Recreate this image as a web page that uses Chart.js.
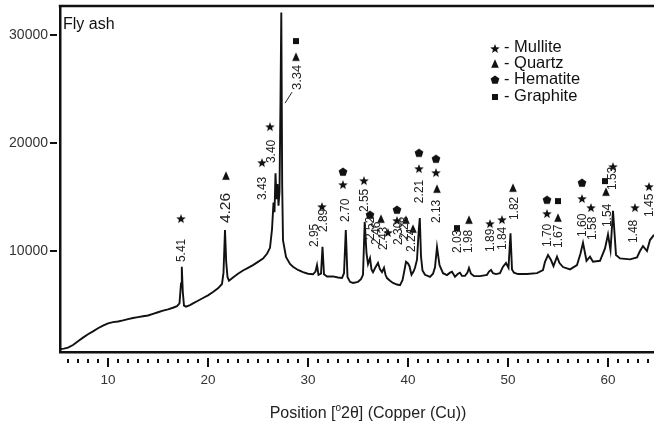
<!DOCTYPE html>
<html lang="en">
<head>
    <meta charset="UTF-8">
    <title>Fly ash XRD</title>
    <script src="https://cdn.jsdelivr.net/npm/chart.js"></script>
    <style>
        body { margin: 0; background: #fff; }
    </style>
</head>
<body>
    <canvas id="xrdChart" width="654" height="426"></canvas>

    <script>
        // diffractogram, position in deg 2theta vs counts
        const twoTheta = [
            5.2, 5.6, 6.0, 6.5, 7.0, 7.5, 8.0, 8.5, 9.0, 9.5, 10.0, 10.5, 11.0, 11.5, 12.0, 12.5, 13.0, 13.5,
            14.0, 14.5, 15.0, 15.5, 16.0, 16.5, 16.9, 17.15, 17.3, 17.38, 17.48, 17.6, 17.8, 18.2, 18.5,
            19.0, 19.5, 20.0, 20.5, 21.0, 21.4, 21.55, 21.7, 21.82, 21.95, 22.1, 22.5, 23.0, 23.5, 24.0,
            24.5, 25.0, 25.5, 25.9, 26.2, 26.4, 26.55, 26.65, 26.75, 26.85, 26.95, 27.05, 27.15, 27.25,
            27.33, 27.42, 27.5, 27.8, 28.2, 28.5, 29.0, 29.5, 30.0, 30.5, 30.75, 30.9, 31.05, 31.3, 31.45,
            31.6, 31.9, 32.5, 33.0, 33.4, 33.6, 33.78, 33.95, 34.2, 34.5, 35.0, 35.3, 35.5, 35.67, 35.85,
            36.0, 36.2, 36.35, 36.5, 36.75, 37.0, 37.2, 37.4, 37.6, 37.75, 37.9, 38.2, 38.5, 38.9, 39.2,
            39.45, 39.6, 39.8, 40.0, 40.15, 40.35, 40.55, 40.7, 40.9, 41.08, 41.18, 41.3, 41.45, 41.7,
            42.2, 42.5, 42.7, 42.9, 43.15, 43.5, 43.9, 44.2, 44.4, 44.7, 45.0, 45.2, 45.4, 45.7, 45.95,
            46.1, 46.3, 46.6, 47.2, 47.9, 48.1, 48.3, 48.5, 48.8, 49.2, 49.5, 49.8, 50.05, 50.25, 50.4,
            50.6, 51.0, 51.9, 52.9, 53.5, 53.7, 54.0, 54.3, 54.55, 54.9, 55.15, 55.5, 56.2, 56.9, 57.25,
            57.5, 57.85, 58.2, 58.5, 59.2, 59.7, 60.0, 60.25, 60.5, 60.8, 61.2, 62.2, 62.9, 63.2, 63.5,
            63.9, 64.2, 64.6
        ];
        const counts = [
            930, 960, 1050, 1300, 1650, 1980, 2300, 2560, 2850, 3100, 3300, 3420, 3480, 3580, 3700, 3800, 3880, 3960,
            4030, 4180, 4330, 4480, 4600, 4750, 4900, 5150, 7000, 8550, 6200, 4950, 4850, 5000, 5150,
            5400, 5650, 5900, 6200, 6550, 6950, 8000, 11950, 9000, 7600, 7250, 7550, 7900, 8200, 8450,
            8700, 9000, 9300, 9750, 10300, 12000, 14500, 13600, 17200, 14800, 16200, 14200, 15500, 24000,
            32100, 16000, 11000, 9450, 8800, 8550, 8250, 8050, 7900, 7850, 8100, 8700, 7800, 7900, 10400,
            7850, 7650, 7650, 7550, 7500, 7950, 11950, 7600, 7150, 7050, 7150, 7400, 7800, 12700, 9800,
            8800, 9350, 8300, 8050, 8500, 8900, 8300, 8050, 8450, 7800, 7500, 7250, 7050, 6900, 6850,
            7300, 8000, 9000, 8850, 8600, 7800, 8100, 8450, 9200, 12000, 13060, 9500, 8200, 7800,
            7600, 7900, 8500, 10370, 8700, 7950, 7780, 8000, 8080, 7620, 7900, 8000, 7700, 7700, 8000,
            8430, 7900, 7680, 7680, 7800, 8100, 8250, 7950, 7870, 7960, 8550, 8890, 8450, 11640, 8300,
            8000, 7870, 7870, 7960, 8240, 9010, 9630, 9170, 8610, 9480, 8890, 8520, 8300, 8700, 9770,
            10770, 9100, 9480, 9010, 9100, 10250, 11540, 10090, 13730, 9630, 9320, 9230, 9410, 10000, 10460,
            10000, 11020, 11500
        ];

        const xTicks = [10, 20, 30, 40, 50, 60];
        const yTicks = [10000, 20000, 30000];

        // d-spacing labels: text, position of the foot of the rotated text
        const peakText = ['5.41', '4.26', '3.43', '3.40', '3.34', '2.95', '2.89', '2.70', '2.55', '2.52',
            '2.46', '2.43', '2.30', '2.28', '2.24', '2.21', '2.13', '2.03', '1.98', '1.89', '1.84', '1.82',
            '1.70', '1.67', '1.60', '1.58', '1.54', '1.53', '1.48', '1.45'];
        const peakTextX = [17.4, 21.8, 25.5, 26.4, 28.9, 30.7, 31.6, 33.8, 35.7, 36.3,
            36.9, 37.6, 39.1, 39.7, 40.4, 41.2, 42.9, 45.0, 46.1, 48.3, 49.5, 50.7,
            54.0, 55.1, 57.5, 58.5, 60.0, 60.5, 62.6, 64.2];
        const peakTextY = [8980, 12590, 14720, 18150, 24910, 10370, 11760, 12690, 13610, 11020,
            10560, 10090, 10560, 11020, 9910, 14440, 12590, 9810, 9810, 9910, 10090, 12870,
            10370, 10280, 11300, 11020, 12220, 15650, 10740, 13150];

        // phase markers
        const mulliteX = [17.3, 25.4, 26.2, 31.4, 33.5, 35.6, 38.0, 38.9, 41.1, 42.8, 48.2, 49.4, 53.9, 57.4, 58.3, 60.5, 62.7, 64.1];
        const mulliteY = [12960, 18150, 21480, 14070, 16110, 16480, 11670, 12780, 17590, 17220, 12500, 12870, 13430, 14820, 13980, 17780, 13980, 15930];
        const quartzX = [21.8, 28.8, 37.3, 39.8, 40.5, 42.9, 46.1, 50.5, 55.0, 59.8];
        const quartzY = [16950, 27960, 12960, 12870, 12040, 15740, 12870, 15830, 13060, 15460];
        const hematiteX = [33.5, 36.2, 38.9, 41.1, 42.8, 53.9, 57.4];
        const hematiteY = [17320, 13330, 13800, 19070, 18520, 14720, 16300];
        const graphiteX = [28.8, 44.9, 55.0, 59.7];
        const graphiteY = [29450, 12130, 14630, 16480];

        const phases = ['Mullite', 'Quartz', 'Hematite', 'Graphite'];

        const ink = '#111';
        const fontFamily = '"Liberation Sans", Arial, sans-serif';

        function symbol(kind) {
            const s = 12;
            const c = document.createElement('canvas');
            c.width = s; c.height = s;
            const g = c.getContext('2d');
            const cx = s / 2, cy = s / 2;
            g.fillStyle = ink;
            g.beginPath();
            if (kind === 'star') {
                for (let i = 0; i < 10; i++) {
                    const r = i % 2 ? 2.1 : 5;
                    const a = -Math.PI / 2 + i * Math.PI / 5;
                    g.lineTo(cx + r * Math.cos(a), cy + r * Math.sin(a));
                }
            } else if (kind === 'triangle') {
                g.moveTo(cx, cy - 4.8);
                g.lineTo(cx + 3.8, cy + 3.8);
                g.lineTo(cx - 3.8, cy + 3.8);
            } else if (kind === 'pentagon') {
                for (let i = 0; i < 5; i++) {
                    const a = -Math.PI / 2 + i * 2 * Math.PI / 5;
                    g.lineTo(cx + 4.6 * Math.cos(a), cy + 4.6 * Math.sin(a));
                }
            } else {
                g.rect(cx - 3, cy - 3, 6, 6);
            }
            g.closePath();
            g.fill();
            return c;
        }
        const symbols = [symbol('star'), symbol('triangle'), symbol('pentagon'), symbol('square')];

        const pts = (xs, ys) => xs.map((v, i) => ({ x: v, y: ys[i] }));

        const markerSet = (label, xs, ys, img) => ({
            type: 'scatter',
            label: label,
            data: pts(xs, ys),
            pointStyle: img,
            pointRadius: 5,
            showLine: false,
            order: 0
        });

        const decor = {
            id: 'decor',
            afterDraw(chart) {
                const { ctx, chartArea: a, scales: { x, y } } = chart;
                ctx.save();

                // frame top
                ctx.strokeStyle = ink;
                ctx.lineWidth = 2.5;
                ctx.beginPath();
                ctx.moveTo(a.left - 1.25, a.top);
                ctx.lineTo(a.right, a.top);
                ctx.stroke();

                // tick marks, set off below the axis
                ctx.fillStyle = ink;
                for (let d = 6; d <= 64; d++) {
                    const px = Math.round(x.getPixelForValue(d));
                    const major = d % 10 === 0;
                    ctx.fillRect(px - 1, a.bottom + (major ? 6 : 7), 2, major ? 9 : 4);
                }
                yTicks.forEach(v => {
                    const py = Math.round(y.getPixelForValue(v));
                    ctx.fillRect(a.left - 10, py - 1, 7, 2);
                });

                // d-spacing labels
                ctx.fillStyle = '#222';
                ctx.textAlign = 'left';
                ctx.textBaseline = 'middle';
                peakText.forEach((t, i) => {
                    let size = 12;
                    if (t === '4.26') size = 15.5;
                    if (t === '3.34') size = 13;
                    ctx.font = size + 'px ' + fontFamily;
                    ctx.save();
                    ctx.translate(x.getPixelForValue(peakTextX[i]), y.getPixelForValue(peakTextY[i]));
                    ctx.rotate(-Math.PI / 2);
                    ctx.fillText(t, 0, 0);
                    ctx.restore();
                });

                // leader for 3.34
                ctx.strokeStyle = '#222';
                ctx.lineWidth = 1;
                ctx.beginPath();
                ctx.moveTo(x.getPixelForValue(27.7), y.getPixelForValue(23700));
                ctx.lineTo(x.getPixelForValue(28.4), y.getPixelForValue(24720));
                ctx.stroke();

                // legend
                ctx.font = '16.5px ' + fontFamily;
                ctx.fillStyle = ink;
                const rowY = [47, 63, 79, 96];
                const symY = [49, 64, 80, 97];
                phases.forEach((p, i) => {
                    const img = symbols[i];
                    ctx.drawImage(img, 495 - img.width / 2, symY[i] - img.height / 2);
                    ctx.fillText('- ' + p, 504, rowY[i]);
                });

                // sample name
                ctx.font = '16px ' + fontFamily;
                ctx.fillText('Fly ash', 63, 25);

                // axis title with superscript degree
                const cx = 368, base = 418;
                const p1 = 'Position [', p2 = 'o', p3 = '2\u03b8] (Copper (Cu))';
                ctx.textBaseline = 'alphabetic';
                ctx.font = '16px ' + fontFamily;
                const w1 = ctx.measureText(p1).width, w3 = ctx.measureText(p3).width;
                ctx.font = '10px ' + fontFamily;
                const w2 = ctx.measureText(p2).width;
                let sx = cx - (w1 + w2 + w3) / 2;
                ctx.fillStyle = '#222';
                ctx.font = '16px ' + fontFamily;
                ctx.fillText(p1, sx, base);
                ctx.font = '10px ' + fontFamily;
                ctx.fillText(p2, sx + w1, base - 7);
                ctx.font = '16px ' + fontFamily;
                ctx.fillText(p3, sx + w1 + w2, base);

                ctx.restore();
            }
        };

        new Chart(document.getElementById('xrdChart').getContext('2d'), {
            type: 'line',
            data: {
                datasets: [
                    {
                        label: 'Fly ash',
                        data: pts(twoTheta, counts),
                        borderColor: ink,
                        borderWidth: 1.9,
                        pointRadius: 0,
                        tension: 0,
                        fill: false,
                        order: 1
                    },
                    markerSet('Mullite', mulliteX, mulliteY, symbols[0]),
                    markerSet('Quartz', quartzX, quartzY, symbols[1]),
                    markerSet('Hematite', hematiteX, hematiteY, symbols[2]),
                    markerSet('Graphite', graphiteX, graphiteY, symbols[3])
                ]
            },
            options: {
                responsive: false,
                animation: false,
                events: [],
                layout: { autoPadding: false, padding: { top: 6, right: 0, left: 0, bottom: 0 } },
                plugins: {
                    legend: { display: false },
                    tooltip: { enabled: false }
                },
                scales: {
                    x: {
                        type: 'linear',
                        min: 5.2,
                        max: 64.6,
                        afterBuildTicks: s => { s.ticks = xTicks.map(v => ({ value: v })); },
                        afterFit: s => {
                            s.height = 74;
                            s.paddingLeft = 0;
                            s.paddingRight = 0;
                        },
                        grid: { drawOnChartArea: false, drawTicks: false },
                        border: { display: true, color: ink, width: 2.5 },
                        ticks: {
                            color: '#333',
                            font: { size: 13.5, family: fontFamily },
                            padding: 20,
                            maxRotation: 0,
                            callback: v => String(v)
                        }
                    },
                    y: {
                        type: 'linear',
                        min: 650,
                        max: 32700,
                        afterBuildTicks: s => { s.ticks = yTicks.map(v => ({ value: v })); },
                        afterFit: s => {
                            s.width = 60;
                            s.paddingTop = 0;
                            s.paddingBottom = 0;
                        },
                        grid: { drawOnChartArea: false, drawTicks: false },
                        border: { display: true, color: ink, width: 2.5 },
                        ticks: {
                            color: '#333',
                            font: { size: 14, family: fontFamily },
                            padding: 12,
                            callback: v => String(v)
                        }
                    }
                }
            },
            plugins: [decor]
        });
    </script>
</body>
</html>
